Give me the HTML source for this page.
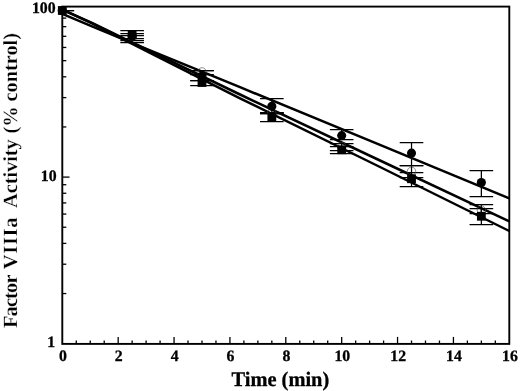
<!DOCTYPE html>
<html><head><meta charset="utf-8"><title>Factor VIIIa Activity</title>
<style>
html,body{margin:0;padding:0;background:#fff;}
body{width:520px;height:391px;overflow:hidden;}
svg{display:block;}
text{font-family:"Liberation Serif","Times New Roman",serif;font-weight:bold;text-rendering:geometricPrecision;fill:#000;stroke:#000;stroke-width:0.3px;}
</style></head><body>
<svg width="520" height="391" viewBox="0 0 520 391">
<rect width="520" height="391" fill="#fff"/>
<rect x="62.3" y="6.6" width="447.0" height="337.3" fill="none" stroke="#000" stroke-width="1.9"/>
<g stroke="#000" stroke-width="1.3">
<line x1="76.27" y1="343.9" x2="76.27" y2="340.5"/>
<line x1="90.24" y1="343.9" x2="90.24" y2="340.5"/>
<line x1="104.21" y1="343.9" x2="104.21" y2="340.5"/>
<line x1="118.17" y1="343.9" x2="118.17" y2="336.9"/>
<line x1="132.14" y1="343.9" x2="132.14" y2="340.5"/>
<line x1="146.11" y1="343.9" x2="146.11" y2="340.5"/>
<line x1="160.08" y1="343.9" x2="160.08" y2="340.5"/>
<line x1="174.05" y1="343.9" x2="174.05" y2="336.9"/>
<line x1="188.02" y1="343.9" x2="188.02" y2="340.5"/>
<line x1="201.99" y1="343.9" x2="201.99" y2="340.5"/>
<line x1="215.96" y1="343.9" x2="215.96" y2="340.5"/>
<line x1="229.93" y1="343.9" x2="229.93" y2="336.9"/>
<line x1="243.89" y1="343.9" x2="243.89" y2="340.5"/>
<line x1="257.86" y1="343.9" x2="257.86" y2="340.5"/>
<line x1="271.83" y1="343.9" x2="271.83" y2="340.5"/>
<line x1="285.80" y1="343.9" x2="285.80" y2="336.9"/>
<line x1="299.77" y1="343.9" x2="299.77" y2="340.5"/>
<line x1="313.74" y1="343.9" x2="313.74" y2="340.5"/>
<line x1="327.71" y1="343.9" x2="327.71" y2="340.5"/>
<line x1="341.68" y1="343.9" x2="341.68" y2="336.9"/>
<line x1="355.64" y1="343.9" x2="355.64" y2="340.5"/>
<line x1="369.61" y1="343.9" x2="369.61" y2="340.5"/>
<line x1="383.58" y1="343.9" x2="383.58" y2="340.5"/>
<line x1="397.55" y1="343.9" x2="397.55" y2="336.9"/>
<line x1="411.52" y1="343.9" x2="411.52" y2="340.5"/>
<line x1="425.49" y1="343.9" x2="425.49" y2="340.5"/>
<line x1="439.46" y1="343.9" x2="439.46" y2="340.5"/>
<line x1="453.43" y1="343.9" x2="453.43" y2="336.9"/>
<line x1="467.39" y1="343.9" x2="467.39" y2="340.5"/>
<line x1="481.36" y1="343.9" x2="481.36" y2="340.5"/>
<line x1="495.33" y1="343.9" x2="495.33" y2="340.5"/>
<line x1="62.3" y1="293.55" x2="66.3" y2="293.55"/>
<line x1="62.3" y1="264.21" x2="66.3" y2="264.21"/>
<line x1="62.3" y1="243.40" x2="66.3" y2="243.40"/>
<line x1="62.3" y1="227.25" x2="66.3" y2="227.25"/>
<line x1="62.3" y1="214.06" x2="66.3" y2="214.06"/>
<line x1="62.3" y1="202.91" x2="66.3" y2="202.91"/>
<line x1="62.3" y1="193.25" x2="66.3" y2="193.25"/>
<line x1="62.3" y1="184.72" x2="66.3" y2="184.72"/>
<line x1="62.3" y1="177.10" x2="69.5" y2="177.10"/>
<line x1="62.3" y1="126.95" x2="66.3" y2="126.95"/>
<line x1="62.3" y1="97.61" x2="66.3" y2="97.61"/>
<line x1="62.3" y1="76.80" x2="66.3" y2="76.80"/>
<line x1="62.3" y1="60.65" x2="66.3" y2="60.65"/>
<line x1="62.3" y1="47.46" x2="66.3" y2="47.46"/>
<line x1="62.3" y1="36.31" x2="66.3" y2="36.31"/>
<line x1="62.3" y1="26.65" x2="66.3" y2="26.65"/>
<line x1="62.3" y1="18.12" x2="66.3" y2="18.12"/>
</g>
<g stroke="#000" stroke-width="2.5" stroke-linecap="butt">
<polyline fill="none" stroke-linejoin="round" points="62.3,13.8 92,26.4 150,50.3 240,87.2 380,144.9 509.3,198.3"/>
<polyline fill="none" stroke-linejoin="round" points="62.3,9.6 92,22.8 150,51.2 240,94.5 380,160.5 509.3,221.4"/>
<polyline fill="none" stroke-linejoin="round" points="62.3,9.6 92,23.3 150,52.8 240,98.3 380,167.0 509.3,231.0"/>
</g>
<g stroke="#000" stroke-width="1.25" fill="none">
<path d="M132.14 35.5V42.5M120.34 35.5H143.94M120.34 42.5H143.94"/>
<path d="M201.99 70.5V74.5M190.19 70.5H213.79M190.19 74.5H213.79"/>
<path d="M271.83 112.5V113.5M260.03 112.5H283.63M260.03 113.5H283.63"/>
<path d="M341.68 143.5V150.5M329.88 143.5H353.48M329.88 150.5H353.48"/>
<path d="M411.52 165.5V177.5M399.72 165.5H423.32M399.72 177.5H423.32"/>
<path d="M481.36 204.5V213.5M469.56 204.5H493.16M469.56 213.5H493.16"/>
<path d="M62.30 10.5V10.5M62.30 10.5H74.10M62.30 10.5H74.10"/>
<path d="M132.14 33.5V40.5M120.34 33.5H143.94M120.34 40.5H143.94"/>
<path d="M201.99 70.5V80.5M190.19 70.5H213.79M190.19 80.5H213.79"/>
<path d="M271.83 98.5V112.5M260.03 98.5H283.63M260.03 112.5H283.63"/>
<path d="M341.68 129.5V139.5M329.88 129.5H353.48M329.88 139.5H353.48"/>
<path d="M411.52 142.5V165.5M399.72 142.5H423.32M399.72 165.5H423.32"/>
<path d="M481.36 170.5V196.5M469.56 170.5H493.16M469.56 196.5H493.16"/>
<path d="M62.30 10.5V10.5M62.30 10.5H74.10M62.30 10.5H74.10"/>
<path d="M132.14 30.5V38.5M120.34 30.5H143.94M120.34 38.5H143.94"/>
<path d="M201.99 80.5V85.5M190.19 80.5H213.79M190.19 85.5H213.79"/>
<path d="M271.83 113.5V121.5M260.03 113.5H283.63M260.03 121.5H283.63"/>
<path d="M341.68 146.5V153.5M329.88 146.5H353.48M329.88 153.5H353.48"/>
<path d="M411.52 172.5V186.5M399.72 172.5H423.32M399.72 186.5H423.32"/>
<path d="M481.36 208.5V224.5M469.56 208.5H493.16M469.56 224.5H493.16"/>
</g>
<g fill="none" stroke="#444" stroke-width="0.6">
<circle cx="132.14" cy="36" r="4.2"/>
<circle cx="201.99" cy="71.9" r="4.2"/>
<circle cx="271.83" cy="113" r="4.2"/>
<circle cx="341.68" cy="146.5" r="4.2"/>
<circle cx="411.52" cy="171.3" r="4.2"/>
<circle cx="481.36" cy="210" r="4.2"/>
</g>
<g fill="#000">
<circle cx="62.30" cy="10.5" r="4.55"/>
<circle cx="132.14" cy="36" r="4.55"/>
<circle cx="201.99" cy="76" r="4.55"/>
<circle cx="271.83" cy="106.25" r="4.55"/>
<circle cx="341.68" cy="135.6" r="4.55"/>
<circle cx="411.52" cy="153.1" r="4.55"/>
<circle cx="481.36" cy="182.5" r="4.55"/>
<rect x="57.90" y="6.10" width="8.8" height="8.8"/>
<rect x="127.74" y="30.60" width="8.8" height="8.8"/>
<rect x="197.59" y="78.10" width="8.8" height="8.8"/>
<rect x="267.43" y="113.10" width="8.8" height="8.8"/>
<rect x="337.28" y="145.35" width="8.8" height="8.8"/>
<rect x="407.12" y="174.35" width="8.8" height="8.8"/>
<rect x="476.96" y="211.85" width="8.8" height="8.8"/>
</g>
<g font-size="15.8" text-anchor="middle">
<text x="62.9" y="360.6">0</text>
<text x="118.8" y="360.6">2</text>
<text x="174.7" y="360.6">4</text>
<text x="230.5" y="360.6">6</text>
<text x="286.4" y="360.6">8</text>
<text x="342.3" y="360.6">10</text>
<text x="398.2" y="360.6">12</text>
<text x="454.0" y="360.6">14</text>
<text x="509.9" y="360.6">16</text>
</g>
<g font-size="15.8" text-anchor="end">
<text x="55.6" y="13.1">100</text>
<text x="56.6" y="180.6">10</text>
<text x="55.2" y="347.3">1</text>
</g>
<text x="280.4" y="385.8" font-size="20.6" text-anchor="middle" textLength="97.6" lengthAdjust="spacingAndGlyphs" style="stroke-width:0.32px">Time (min)</text>
<text transform="translate(17 328.1) rotate(-90) scale(1.015 1)" font-size="20.1" textLength="52.81" lengthAdjust="spacing" style="stroke:#fff;stroke-width:0.22px;paint-order:fill stroke">Factor</text>
<text transform="translate(17 269.2) rotate(-90) scale(1.015 1)" font-size="20.1" textLength="50.84" lengthAdjust="spacing" style="stroke:#fff;stroke-width:0.22px;paint-order:fill stroke">VIIIa</text>
<text transform="translate(17 207.9) rotate(-90) scale(1.015 1)" font-size="20.1" textLength="67.59" lengthAdjust="spacing" style="stroke:#fff;stroke-width:0.22px;paint-order:fill stroke">Activity</text>
<text transform="translate(17 133.6) rotate(-90) scale(1.015 1)" font-size="20.1" textLength="99.11" lengthAdjust="spacing" style="stroke:#fff;stroke-width:0.22px;paint-order:fill stroke">(% control)</text>
</svg></body></html>
